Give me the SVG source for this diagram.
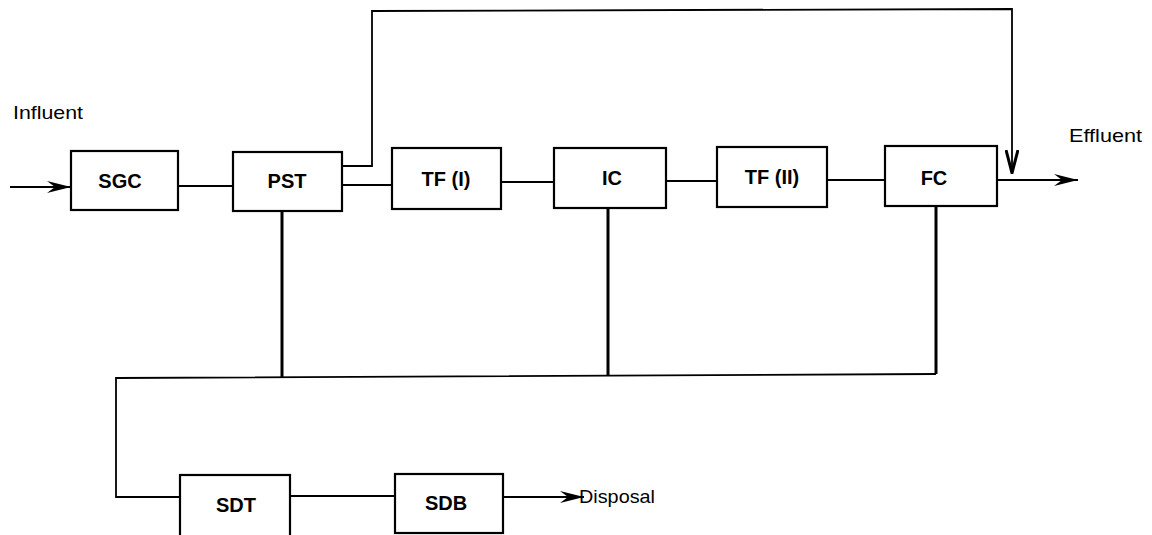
<svg xmlns="http://www.w3.org/2000/svg" width="1152" height="535" viewBox="0 0 1152 535">
  <defs>
    <style>
      .box { fill: #fff; stroke: #000; stroke-width: 2.2; }
      .lbl { font-family: "Liberation Sans", Arial, sans-serif; font-weight: bold; font-size: 20px; text-anchor: middle; fill: #000; }
      .txt { font-family: "Liberation Sans", Arial, sans-serif; font-size: 19px; fill: #000; }
      .ln { fill: none; stroke: #000; stroke-width: 1.8; }
      .thick { fill: none; stroke: #000; stroke-width: 3; }
    </style>
    <marker id="arr" viewBox="0 0 24 12" refX="24" refY="6" markerWidth="24" markerHeight="12" markerUnits="userSpaceOnUse" orient="auto">
      <path d="M0,0 L24,6 L0,12 L8,6 z" fill="#000"/>
    </marker>
    <marker id="vee" viewBox="0 0 14 24" refX="7" refY="23" markerWidth="14" markerHeight="24" markerUnits="userSpaceOnUse" orient="0">
      <path d="M1,0 L7,23 L13,0" fill="none" stroke="#000" stroke-width="3"/>
    </marker>
  </defs>
  <rect width="1152" height="535" fill="#fff"/>

  <g id="connectors">
    <line class="ln" x1="10" y1="187" x2="71" y2="187" marker-end="url(#arr)"/>
    <line class="ln" x1="178" y1="186" x2="233" y2="186"/>
    <line class="ln" x1="342" y1="185" x2="392" y2="185"/>
    <line class="ln" x1="501" y1="182" x2="554" y2="182"/>
    <line class="ln" x1="666" y1="181" x2="717" y2="181"/>
    <line class="ln" x1="827" y1="180" x2="885" y2="180"/>
    <line class="ln" x1="997" y1="180" x2="1078" y2="180" marker-end="url(#arr)"/>
    <polyline class="ln" points="342,166 372,166 372,11 1012,9 1012,173" marker-end="url(#vee)"/>
    <line class="thick" x1="282" y1="211" x2="282" y2="378"/>
    <line class="thick" x1="608" y1="208" x2="608" y2="376"/>
    <line class="thick" x1="936" y1="206" x2="936" y2="374"/>
    <polyline class="ln" points="936,374 116,378 116,497 180,497"/>
    <line class="ln" x1="290" y1="496" x2="395" y2="496"/>
    <line class="ln" x1="503" y1="497" x2="584" y2="497" marker-end="url(#arr)"/>
  </g>

  <g id="SGC"><rect class="box" x="71" y="151" width="107" height="59"/><text class="lbl" x="120" y="188">SGC</text></g>
  <g id="PST"><rect class="box" x="233" y="152" width="109" height="59"/><text class="lbl" x="287" y="188">PST</text></g>
  <g id="TF1"><rect class="box" x="392" y="148" width="109" height="61"/><text class="lbl" x="446" y="186">TF (I)</text></g>
  <g id="IC"><rect class="box" x="554" y="148" width="112" height="60"/><text class="lbl" x="612" y="185">IC</text></g>
  <g id="TF2"><rect class="box" x="717" y="147" width="110" height="60"/><text class="lbl" x="772" y="184">TF (II)</text></g>
  <g id="FC"><rect class="box" x="885" y="146" width="112" height="60"/><text class="lbl" x="934" y="185">FC</text></g>
  <g id="SDT"><rect class="box" x="180" y="475" width="110" height="70"/><text class="lbl" x="236" y="512">SDT</text></g>
  <g id="SDB"><rect class="box" x="395" y="474" width="108" height="59"/><text class="lbl" x="446" y="510">SDB</text></g>

  <g id="labels">
    <text class="txt" x="13" y="119" textLength="70" lengthAdjust="spacingAndGlyphs">Influent</text>
    <text class="txt" x="1069" y="142" textLength="73" lengthAdjust="spacingAndGlyphs">Effluent</text>
    <text class="txt" x="579" y="503" textLength="76" lengthAdjust="spacingAndGlyphs">Disposal</text>
  </g>
</svg>
